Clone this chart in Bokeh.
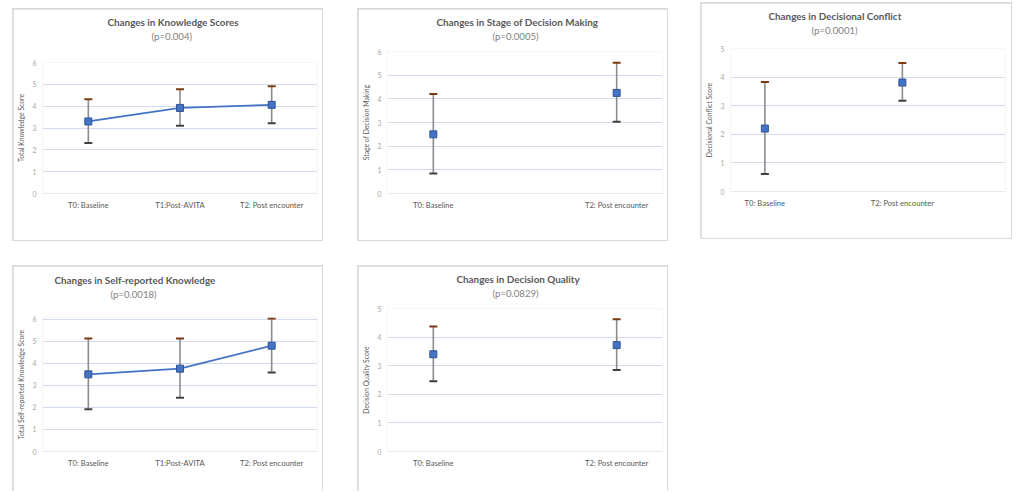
from bokeh.plotting import figure
from bokeh.layouts import column, row
from bokeh.models import Title, FixedTicker, Range1d, ColumnDataSource, Span
from bokeh.embed import file_html
from bokeh.resources import INLINE

FONT = "Lato"

# ---- data ----
cats_3 = ["T0: Baseline", "T1:Post-AVITA", "T2: Post encounter"]
cats_2 = ["T0: Baseline", "T2: Post encounter"]
slots_3 = [0, 1, 2]
slots_2 = [0, 2]

knowledge_mean = [3.30, 3.92, 4.06]
knowledge_upper = [4.32, 4.78, 4.91]
knowledge_lower = [2.31, 3.10, 3.22]

stage_mean = [2.50, 4.25]
stage_upper = [4.20, 5.52]
stage_lower = [0.84, 3.03]

conflict_mean = [2.20, 3.81]
conflict_upper = [3.83, 4.49]
conflict_lower = [0.61, 3.17]

selfk_mean = [3.50, 3.76, 4.80]
selfk_upper = [5.13, 5.13, 6.03]
selfk_lower = [1.92, 2.44, 3.59]

quality_mean = [3.40, 3.72]
quality_upper = [4.37, 4.62]
quality_lower = [2.46, 2.85]


def panel(title, ptext, ylabel, cats, slots, nslots, mean, lower, upper, ymax,
          connect, w, h, bl, br, bt, bb, t_off, s_off, spacer, bottom_row=False,
          yend=None):
    xs = [s + 0.5 for s in slots]
    src = ColumnDataSource(dict(x=xs, mean=mean, lo=lower, hi=upper))
    p = figure(width=w, height=h, output_backend="svg", toolbar_location=None,
               x_range=Range1d(0, nslots), y_range=Range1d(0, yend if yend else ymax),
               min_border_left=bl, min_border_right=br,
               min_border_top=bt, min_border_bottom=bb,
               margin=(1, 1, 0, 1) if bottom_row else (1, 1, 1, 1))
    p.outline_line_color = None
    p.background_fill_color = "white"
    p.border_fill_color = "white"

    # axes
    p.xaxis.ticker = FixedTicker(ticks=xs)
    p.xaxis.major_label_overrides = {x: c for x, c in zip(xs, cats)}
    p.xaxis.axis_line_color = None
    p.xaxis.major_tick_line_color = None
    p.xaxis.minor_tick_line_color = None
    p.xaxis.major_tick_out = 0
    p.xaxis.major_tick_in = 0
    p.xaxis.minor_tick_out = 0
    p.xaxis.major_label_text_font = FONT
    p.xaxis.major_label_text_font_size = "7.6px"
    p.xaxis.major_label_text_color = "#595959"
    p.xaxis.major_label_standoff = 6

    p.yaxis.ticker = FixedTicker(ticks=list(range(0, ymax + 1)))
    p.yaxis.axis_line_color = None
    p.yaxis.major_tick_line_color = None
    p.yaxis.minor_tick_line_color = None
    p.yaxis.major_tick_out = 0
    p.yaxis.major_tick_in = 0
    p.yaxis.minor_tick_out = 0
    p.yaxis.major_label_text_font = FONT
    p.yaxis.major_label_text_font_size = "6.8px"
    p.yaxis.major_label_text_color = "#a6a6a6"
    p.yaxis.major_label_standoff = 6
    p.yaxis.axis_label = ylabel
    p.yaxis.axis_label_text_font = FONT
    p.yaxis.axis_label_text_font_size = "6.8px"
    p.yaxis.axis_label_text_font_style = "normal"
    p.yaxis.axis_label_text_color = "#595959"
    p.yaxis.axis_label_standoff = 5

    p.xgrid.grid_line_color = None
    p.ygrid.ticker = FixedTicker(ticks=list(range(1, ymax + 1)))
    p.ygrid.grid_line_color = "#d3dbee"
    p.ygrid.grid_line_width = 1
    p.add_layout(Span(location=0, dimension="width", line_color="#d9d9d9", line_width=1))

    # series
    p.segment(x0="x", y0="lo", x1="x", y1="hi", source=src,
              line_color="#8c8c8c", line_width=1.6)
    p.scatter(x="x", y="hi", source=src, marker="dash", size=8,
              line_color="#7a3b12", line_width=2)
    p.scatter(x="x", y="lo", source=src, marker="dash", size=8,
              line_color="#404040", line_width=2)
    if connect:
        p.line(x="x", y="mean", source=src, line_color="#4472c4", line_width=1.8)
    p.scatter(x="x", y="mean", source=src, marker="square", size=7,
              fill_color="#4472c4", line_color="#2f5597", line_width=1)

    # titles (stacked outward from the frame: spacer, p-value, title)
    p.add_layout(Title(text=" ", text_font_size="1px", standoff=max(spacer - 3, 0)), "above")
    p.add_layout(Title(text=ptext, align="left", offset=s_off, standoff=0,
                       text_font=FONT, text_font_size="9.6px",
                       text_font_style="normal", text_color="#7f7f7f"), "above")
    p.add_layout(Title(text=title, align="left", offset=t_off, standoff=2,
                       text_font=FONT, text_font_size="9.9px",
                       text_font_style="bold", text_color="#595959"), "above")

    wrap = column(p, styles={"background-color": "#d9d9d9"})
    return wrap


w1 = panel("Changes in Knowledge Scores", "(p=0.004)", "Total Knowledge Score",
           cats_3, slots_3, 3, knowledge_mean, knowledge_lower, knowledge_upper, 6,
           True, 309, 231, 25, 5, 53, 47, 65, 109, 21)
w2 = panel("Changes in Stage of Decision Making", "(p=0.0005)", "Stage of Decision Making",
           cats_2, slots_2, 3, stage_mean, stage_lower, stage_upper, 6,
           False, 309, 231, 25, 5, 42, 47, 49, 105, 10)
w3 = panel("Changes in Decisional Conflict", "(p=0.0001)", "Decisional Conflict Score",
           cats_2, slots_2, 4, conflict_mean, conflict_lower, conflict_upper, 5,
           False, 310, 235, 26, 6, 45, 47, 38, 81, 13)
w4 = panel("Changes in Self-reported Knowledge", "(p=0.0018)", "Total Self-reported Knowledge Score",
           cats_3, slots_3, 3, selfk_mean, selfk_lower, selfk_upper, 6,
           True, 309, 225, 25, 5, 51, 40, 12, 68, 18, True, yend=6.08)
w5 = panel("Changes in Decision Quality", "(p=0.0829)", "Decision Quality Score",
           cats_2, slots_2, 3, quality_mean, quality_lower, quality_upper, 5,
           False, 309, 225, 25, 5, 42, 40, 69, 105, 10, True)

w1.margin = (8, 0, 0, 12)
w2.margin = (8, 0, 0, 34)
w3.margin = (2, 0, 0, 32)
w4.margin = (24, 0, 0, 12)
w5.margin = (24, 0, 0, 34)

layout = column(row(w1, w2, w3), row(w4, w5))

open("out.html", "w").write(file_html(layout, INLINE))
